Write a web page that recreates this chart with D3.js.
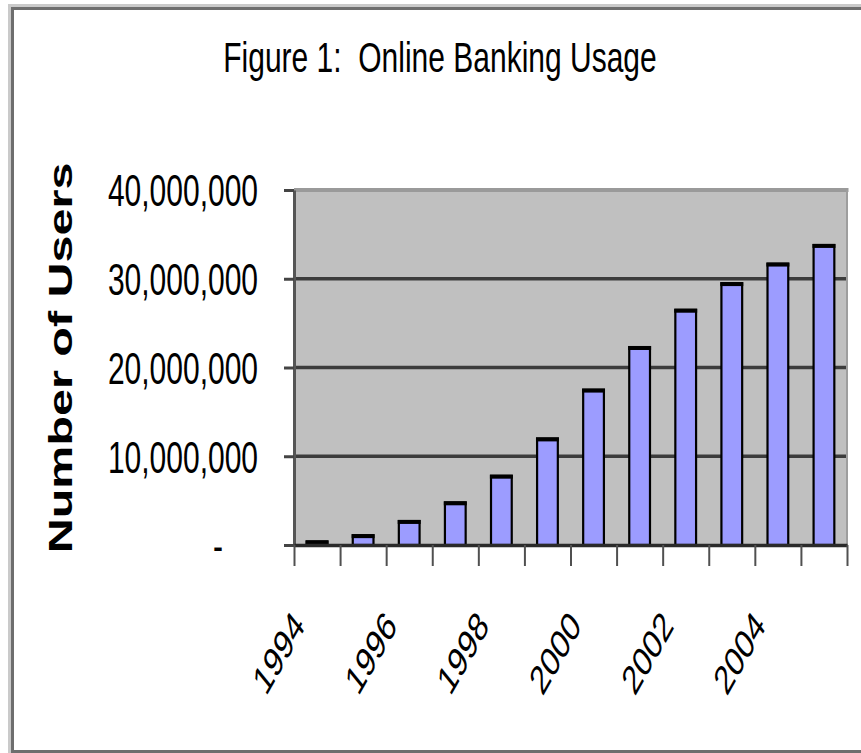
<!DOCTYPE html>
<html>
<head>
<meta charset="utf-8">
<script src="https://cdn.jsdelivr.net/npm/d3@7"></script>
<style>
  html, body { margin: 0; padding: 0; background: #ffffff; }
  svg { display: block; }
  text { font-family: "Liberation Sans", Arial, sans-serif; fill: #000; }
</style>
</head>
<body>
<svg id="chart" width="861" height="753"></svg>
<script>
// Online banking users per year
const years = ["1994","1995","1996","1997","1998","1999","2000","2001","2002","2003","2004","2005"];
const users = [400000, 1100000, 2700000, 4800000, 7800000, 12000000, 17500000, 22300000, 26500000, 29500000, 31700000, 33800000];
const yTicks = [0, 10000000, 20000000, 30000000, 40000000];
const yearLabels = ["1994","1996","1998","2000","2002","2004"];
const titleText = "Figure 1:  Online Banking Usage";
const yTitle = "Number of Users";

// Text is drawn taller than it is wide
const STRETCH = 1.47;

const svg = d3.select("#chart");

const plot = { left: 294, right: 847, top: 190, bottom: 545 };

const x = d3.scaleBand()
  .domain(years)
  .range([plot.left, plot.right])
  .paddingInner(0.55)
  .paddingOuter(0.275);

// category boundaries for the x tick marks
const xEdges = d3.scaleLinear().domain([0, years.length]).range([plot.left, plot.right]);

const y = d3.scaleLinear().domain([0, 40000000]).range([plot.bottom, plot.top]);

// outer frame
svg.append("path")
  .attr("d", `M870,5.5 H9.5 V756`)
  .attr("fill", "none").attr("stroke", "#cacaca").attr("stroke-width", 3);
svg.append("path")
  .attr("d", `M870,8.5 H12.5 V751.5 H870`)
  .attr("fill", "none").attr("stroke", "#6e6e6e").attr("stroke-width", 3);

// title
svg.append("text")
  .attr("transform", `translate(440,72) scale(1,${STRETCH / 1.04})`)
  .attr("text-anchor", "middle")
  .style("white-space", "pre")
  .attr("font-size", 30)
  .text(titleText);

// plot background
svg.append("rect")
  .attr("x", plot.left).attr("y", plot.top)
  .attr("width", plot.right - plot.left).attr("height", plot.bottom - plot.top)
  .attr("fill", "#c0c0c0");

// gridlines
svg.append("g").selectAll("line")
  .data(yTicks.filter(v => v > 0 && v < 40000000))
  .join("line")
  .attr("x1", plot.left).attr("x2", plot.right)
  .attr("y1", d => y(d)).attr("y2", d => y(d))
  .attr("stroke", "#3c3c3c").attr("stroke-width", 3.5);

// plot top and right borders
svg.append("line")
  .attr("x1", plot.left).attr("x2", plot.right + 1.5)
  .attr("y1", y(40000000)).attr("y2", y(40000000))
  .attr("stroke", "#9a9a9a").attr("stroke-width", 4);
svg.append("line")
  .attr("x1", plot.right).attr("x2", plot.right)
  .attr("y1", y(40000000)).attr("y2", plot.bottom)
  .attr("stroke", "#9e9e9e").attr("stroke-width", 2);

// bars
const bars = svg.append("g");
bars.selectAll("rect.bar")
  .data(years.map((yr, i) => ({ yr, v: users[i] })))
  .join("rect")
  .attr("class", "bar")
  .attr("x", d => x(d.yr))
  .attr("y", d => y(d.v))
  .attr("width", x.bandwidth())
  .attr("height", d => plot.bottom - y(d.v))
  .attr("fill", "#9c9cff")
  .attr("stroke", "#000")
  .attr("stroke-width", 2.2);
// heavier top edge
bars.selectAll("rect.cap")
  .data(years.map((yr, i) => ({ yr, v: users[i] })))
  .join("rect")
  .attr("class", "cap")
  .attr("x", d => x(d.yr) - 1.1)
  .attr("y", d => y(d.v) - 1.1)
  .attr("width", x.bandwidth() + 2.2)
  .attr("height", d => Math.min(4, plot.bottom - y(d.v) + 1.1))
  .attr("fill", "#000");

// y axis
const yAxis = svg.append("g")
  .attr("transform", `translate(${plot.left},0)`)
  .call(d3.axisLeft(y)
    .tickValues(yTicks)
    .tickSize(10)
    .tickSizeOuter(0)
    .tickFormat(d => d === 0 ? "-" : d3.format(",")(d)));
yAxis.select(".domain").attr("stroke", "#555").attr("stroke-width", 3);
yAxis.selectAll(".tick line").attr("stroke", "#444").attr("stroke-width", 3);
yAxis.selectAll(".tick text")
  .attr("x", null).attr("dy", "0.36em")
  .attr("font-size", 30)
  .attr("font-family", "Liberation Sans, Arial, sans-serif")
  .attr("fill", "#000")
  .attr("text-anchor", d => d === 0 ? "middle" : "end")
  .attr("transform", d => `translate(${d === 0 ? -76 : -36},0) scale(1,${STRETCH})`);

// x axis: ticks on category boundaries
const xAxis = svg.append("g")
  .attr("transform", `translate(0,${plot.bottom})`)
  .call(d3.axisBottom(xEdges)
    .tickValues(d3.range(years.length + 1))
    .tickSize(21)
    .tickSizeOuter(0)
    .tickFormat(""));
xAxis.select(".domain").attr("stroke", "#2a2a2a").attr("stroke-width", 3.5);
xAxis.selectAll(".tick line").attr("stroke", "#505050").attr("stroke-width", 2);

// year labels, slanted
svg.append("g").selectAll("text")
  .data(yearLabels)
  .join("text")
  .attr("text-anchor", "end")
  .attr("font-size", 28)
  .attr("transform", d => `translate(${x(d) + x.bandwidth() / 2 - 11},627) scale(1,${STRETCH}) rotate(-50)`)
  .text(d => d);

// y axis title
svg.append("text")
  .attr("transform", `translate(72,358) scale(1,${STRETCH}) rotate(-90)`)
  .attr("text-anchor", "middle")
  .attr("font-weight", "bold")
  .attr("font-size", 33)
  .text(yTitle);
</script>
</body>
</html>
